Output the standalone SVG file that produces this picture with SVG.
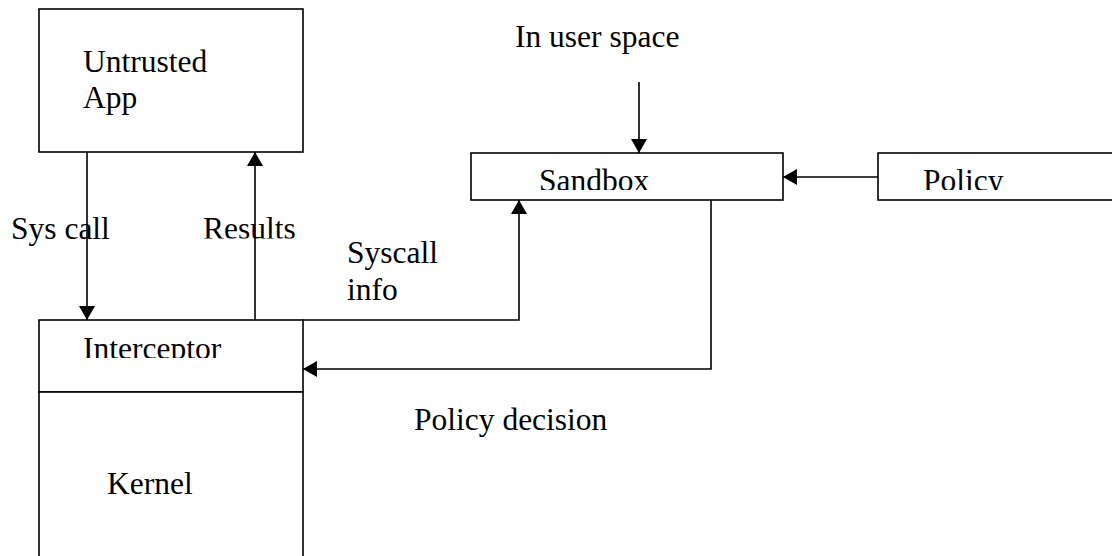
<svg xmlns="http://www.w3.org/2000/svg" width="1112" height="556" viewBox="0 0 1112 556">
  <style>
    .box { fill: #ffffff; stroke: #000000; stroke-width: 1.6; }
    .conn { fill: none; stroke: #000000; stroke-width: 1.6; }
    .lbl { font-family: "Liberation Serif", "Times New Roman", serif; font-size: 31.5px; fill: #000000; }
  </style>
  <defs>
    <marker id="arrow" markerUnits="userSpaceOnUse" markerWidth="16" markerHeight="16" viewBox="0 0 14 16" refX="14" refY="8" orient="auto">
      <path d="M0,0 L14,8 L0,16 Z" fill="#000000"/>
    </marker>
    <clipPath id="clipSandbox"><rect x="471" y="153" width="312" height="37"/></clipPath>
    <clipPath id="clipPolicy"><rect x="878" y="153" width="240" height="37"/></clipPath>
    <clipPath id="clipInterceptor"><rect x="39" y="320" width="264" height="38"/></clipPath>
    <clipPath id="clipResults"><rect x="190" y="200" width="120" height="38.5"/></clipPath>
  </defs>
  <rect width="1112" height="556" fill="#ffffff"/>

  <g id="untrusted-app">
    <rect class="box" x="39" y="9" width="264" height="143"/>
    <text class="lbl" x="83" y="72">Untrusted</text>
    <text class="lbl" x="83" y="108">App</text>
  </g>

  <g id="sandbox">
    <rect class="box" x="471" y="153" width="312" height="47"/>
    <text class="lbl" x="539" y="191" clip-path="url(#clipSandbox)">Sandbox</text>
  </g>

  <g id="policy">
    <rect class="box" x="878" y="153" width="240" height="47"/>
    <text class="lbl" x="923" y="191" clip-path="url(#clipPolicy)">Policy</text>
  </g>

  <g id="interceptor">
    <rect class="box" x="39" y="320" width="264" height="72"/>
    <text class="lbl" x="83" y="359" clip-path="url(#clipInterceptor)">Interceptor</text>
  </g>

  <g id="kernel">
    <rect class="box" x="39" y="392" width="264" height="170"/>
    <text class="lbl" x="107" y="494">Kernel</text>
  </g>

  <g id="connectors">
    <line class="conn" x1="87" y1="152" x2="87" y2="320" marker-end="url(#arrow)"/>
    <line class="conn" x1="255" y1="320" x2="255" y2="152" marker-end="url(#arrow)"/>
    <line class="conn" x1="639" y1="82" x2="639" y2="153" marker-end="url(#arrow)"/>
    <line class="conn" x1="878" y1="177" x2="783" y2="177" marker-end="url(#arrow)"/>
    <path class="conn" d="M303,320 H519 V200" marker-end="url(#arrow)"/>
    <path class="conn" d="M711,200 V369 H303" marker-end="url(#arrow)"/>
  </g>

  <g id="labels">
    <text class="lbl" x="515" y="47">In user space</text>
    <text class="lbl" x="11" y="239">Sys call</text>
    <text class="lbl" x="203" y="239" clip-path="url(#clipResults)">Results</text>
    <text class="lbl" x="347" y="263">Syscall</text>
    <text class="lbl" x="347" y="300">info</text>
    <text class="lbl" x="414" y="430">Policy decision</text>
  </g>
</svg>
